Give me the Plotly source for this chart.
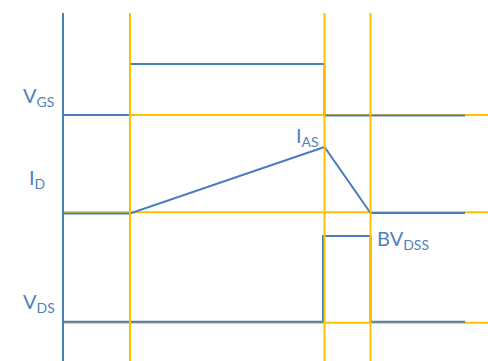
import plotly.graph_objects as go

# time marks (horizontal position) and signal levels (vertical position, top = 0)
T_START = 63
T_ON = 130
T_OFF = 324.5
T_END = 370.5
T_STOP = 465

# gate-source voltage
VGS_T = [T_START, T_ON, T_ON, T_OFF, T_OFF, T_STOP]
VGS_Y = [115, 115, 64, 64, 115.5, 115.5]

# drain current
ID_T = [T_START, T_ON, T_OFF, T_END, T_STOP]
ID_Y = [213.5, 213.5, 147, 213, 213]

# drain-source voltage
VDS_T = [T_START, T_OFF - 1.5, T_OFF - 1.5, T_END, T_END, T_STOP]
VDS_Y = [321.7, 321.7, 236, 236, 321.7, 321.7]

# yellow guide lines
GUIDE_X = [T_ON, T_OFF, T_END]
GUIDE_Y = [115, 212.3, 322.7]

BLUE = '#4A7EBB'
YELLOW = '#FFC000'
TEXT = '#4F81BD'

fig = go.Figure()

# horizontal guides first (blue signals sit on top)
for gy in GUIDE_Y:
    fig.add_trace(go.Scatter(x=[T_START, 488], y=[gy, gy], mode='lines',
                             line=dict(color=YELLOW, width=2), hoverinfo='skip'))

# axis line
fig.add_trace(go.Scatter(x=[T_START, T_START], y=[13, 361], mode='lines',
                         line=dict(color=BLUE, width=2), hoverinfo='skip'))

for tx, ty in [(VGS_T, VGS_Y), (ID_T, ID_Y), (VDS_T, VDS_Y)]:
    fig.add_trace(go.Scatter(x=tx, y=ty, mode='lines',
                             line=dict(color=BLUE, width=2), hoverinfo='skip'))

# vertical guides on top
for gx in GUIDE_X:
    fig.add_trace(go.Scatter(x=[gx, gx], y=[13, 361], mode='lines',
                             line=dict(color=YELLOW, width=2), hoverinfo='skip'))

labels = [
    ('V<sub>GS</sub>', 21, 96),
    ('I<sub>D</sub>', 27, 178),
    ('I<sub>AS</sub>', 294, 136),
    ('BV<sub>DSS</sub>', 375, 239),
    ('V<sub>DS</sub>', 21, 302),
]
for txt, lx, ly in labels:
    fig.add_annotation(x=lx, y=ly, text=txt, showarrow=False,
                       xanchor='left', yanchor='middle',
                       font=dict(family='Lato', size=20, color=TEXT))

fig.update_layout(
    width=488, height=361,
    margin=dict(l=0, r=0, t=0, b=0),
    paper_bgcolor='white', plot_bgcolor='white',
    showlegend=False,
    xaxis=dict(range=[0, 488], visible=False, fixedrange=True),
    yaxis=dict(range=[361, 0], visible=False, fixedrange=True),
)

fig.write_html("out.html", config={'displayModeBar': False},
               post_script="document.body.style.margin='0';")
